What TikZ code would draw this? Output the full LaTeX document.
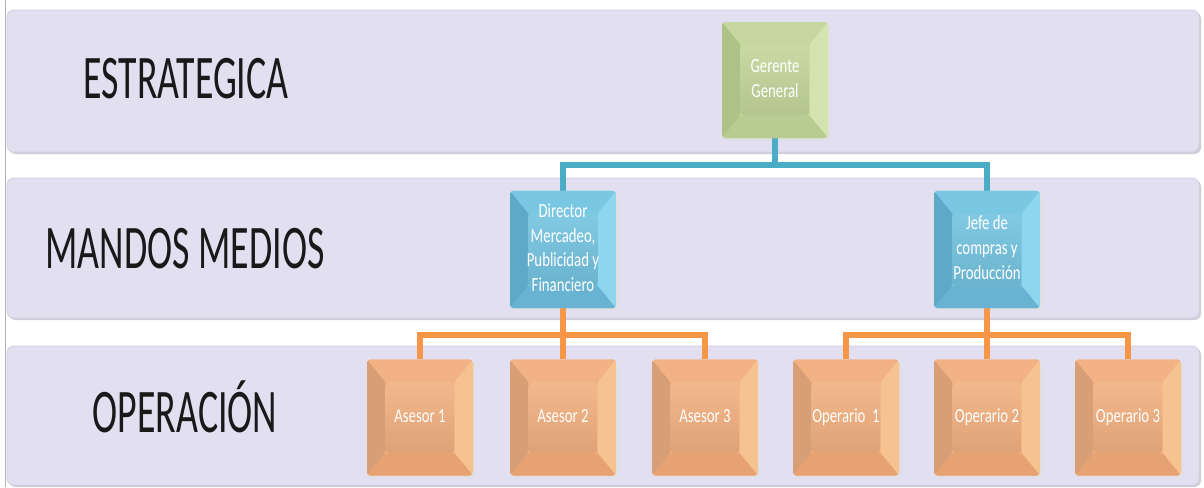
\documentclass[tikz,border=0pt]{standalone}
\usepackage{graphicx}
\usepackage{fontspec}
\setmainfont{Carlito}
\usetikzlibrary{calc}

\pgfdeclarelayer{bands}
\pgfdeclarelayer{links}
\pgfsetlayers{bands,links,main}

% band and connector colours
\definecolor{bandfill}{HTML}{E2DFF0}
\definecolor{bandline}{HTML}{D3D0E0}
\definecolor{bandshadow}{HTML}{CFCDD8}
\definecolor{tealline}{HTML}{4BACC6}
\definecolor{orangeline}{HTML}{F79646}

% bevel palettes: inner, left, top, right, bottom
\definecolor{gIn}{HTML}{C3D69B}\definecolor{gL}{HTML}{AEC287}\definecolor{gT}{HTML}{C6D8A0}
\definecolor{gR}{HTML}{D4E4B0}\definecolor{gB}{HTML}{B8CB90}
\definecolor{bIn}{HTML}{74C3E0}\definecolor{bL}{HTML}{5EA9C7}\definecolor{bT}{HTML}{7AC7E3}
\definecolor{bR}{HTML}{8ED5EE}\definecolor{bB}{HTML}{68B3D1}
\definecolor{oIn}{HTML}{F2B080}\definecolor{oL}{HTML}{D89E76}\definecolor{oT}{HTML}{F2B284}
\definecolor{oR}{HTML}{F6C290}\definecolor{oB}{HTML}{E6A272}

\newcommand{\boxtext}[1]{\scalebox{0.74}[1]{\begin{tabular}{@{}c@{}}#1\end{tabular}}}
\newcommand{\leveltext}[1]{\scalebox{0.61}[1]{#1}}

\tikzset{
  band/.style={fill=bandfill, draw=bandline, line width=0.6pt, rounded corners=5pt},
  bandshade/.style={fill=bandshadow, rounded corners=5pt},
  level/.style={anchor=base, font=\fontsize{46.5}{50}\selectfont, text=black!90},
  bevelbox/.style n args={5}{
    rectangle, rounded corners=2.5pt, inner sep=0pt,
    minimum width=79.5pt, minimum height=87pt,
    text=white, font=\fontsize{15}{18.5}\selectfont,
    path picture={
      \path (path picture bounding box.south west) coordinate (@sw)
            (path picture bounding box.north east) coordinate (@ne)
            (@sw|-@ne) coordinate (@nw)
            (@ne|-@sw) coordinate (@se)
            ($(@sw)+(14pt,17pt)$) coordinate (@isw)
            ($(@ne)+(-14pt,-17pt)$) coordinate (@ine)
            ($(@nw)+(14pt,-17pt)$) coordinate (@inw)
            ($(@se)+(-14pt,17pt)$) coordinate (@ise);
      \fill[#1] (@sw) rectangle (@ne);
      \fill[#2] (@sw) -- (@nw) -- (@inw) -- (@isw) -- cycle;
      \fill[#3] (@nw) -- (@ne) -- (@ine) -- (@inw) -- cycle;
      \fill[#4] (@ne) -- (@se) -- (@ise) -- (@ine) -- cycle;
      \fill[#5] (@se) -- (@sw) -- (@isw) -- (@ise) -- cycle;
      \shade[top color=#1!90!white, bottom color=#1!92!black] (@isw) rectangle (@ine);
    }},
  greenbox/.style={bevelbox={gIn}{gL}{gT}{gR}{gB}},
  bluebox/.style={bevelbox={bIn}{bL}{bT}{bR}{bB}},
  orangebox/.style={bevelbox={oIn}{oL}{oT}{oR}{oB}},
  boxshadow/.style={fill=black!12, rounded corners=3pt},
  tealconn/.style={draw=tealline, line width=3.8pt},
  orangeconn/.style={draw=orangeline, line width=5pt},
}

\begin{document}
\begin{tikzpicture}[x=0.75pt, y=-0.75pt]
  \useasboundingbox (0,0) rectangle (1204,487);

  \begin{pgfonlayer}{bands}
    \fill[white] (0,0) rectangle (1204,487);
    % left page rule
    \draw[black!30, line width=0.6pt] (5,0) -- (5,487);
    % level bands
    \fill[bandshade] (9,12) rectangle (1201,154);
    \draw[band] (7,10) rectangle (1199,152);
    \fill[bandshade] (9,180) rectangle (1201,320);
    \draw[band] (7,178) rectangle (1199,318);
    \fill[bandshade] (9,348) rectangle (1201,487);
    \draw[band] (7,346) rectangle (1199,485);
    % soft shadows under the boxes
    \foreach \cx/\cy in {775/80, 563/249.5, 987/249.5, 420/417.5, 563/417.5, 705/417.5, 846/417.5, 987/417.5, 1128/417.5}
      \fill[boxshadow] (\cx-52,\cy-56) rectangle (\cx+55,\cy+60);
  \end{pgfonlayer}

  % level names
  \node[level] (lvl1) at (186,98)  {\leveltext{ESTRATEGICA}};
  \node[level] (lvl2) at (185,268) {\leveltext{MANDOS MEDIOS}};
  \node[level] (lvl3) at (185,432) {\leveltext{OPERACIÓN}};

  % boxes
  \node[greenbox] (ger) at (775,80) {\boxtext{Gerente\\General}};
  \node[bluebox, minimum height=88pt] (dir) at (563,249.5) {\boxtext{Director\\Mercadeo,\\Publicidad y\\Financiero}};
  \node[bluebox, minimum height=88pt] (jefe) at (987,249.5) {\boxtext{Jefe de\\compras y\\Producción}};
  \node[orangebox] (a1) at (420,417.5) {\boxtext{Asesor 1}};
  \node[orangebox] (a2) at (563,417.5) {\boxtext{Asesor 2}};
  \node[orangebox] (a3) at (705,417.5) {\boxtext{Asesor 3}};
  \node[orangebox] (o1) at (846,417.5) {\boxtext{Operario~ 1}};
  \node[orangebox] (o2) at (987,417.5) {\boxtext{Operario 2}};
  \node[orangebox] (o3) at (1128,417.5) {\boxtext{Operario 3}};

  % bus junction points
  \coordinate (busA) at (775,165);
  \coordinate (busB) at (563,335);
  \coordinate (busC) at (987,335);

  % connectors, kept behind the boxes
  \begin{pgfonlayer}{links}
    \draw[tealconn] (ger.south) -- (busA);
    \draw[tealconn] (dir.north) |- (busA) -| (jefe.north);
    \draw[orangeconn] (dir.south) -- (a2.north);
    \draw[orangeconn] (a1.north) |- (busB) -| (a3.north);
    \draw[orangeconn] (jefe.south) -- (o2.north);
    \draw[orangeconn] (o1.north) |- (busC) -| (o3.north);
  \end{pgfonlayer}
\end{tikzpicture}
\end{document}
